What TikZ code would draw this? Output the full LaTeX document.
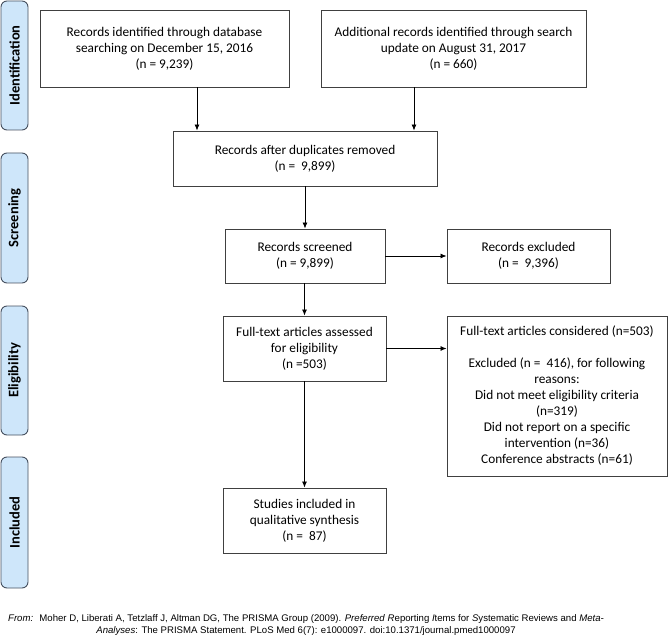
\documentclass[tikz,border=0pt]{standalone}
\usepackage{fontspec}
\setmainfont{Carlito}
\newfontfamily\footfont{Liberation Sans}
\usetikzlibrary{arrows.meta,positioning}
\definecolor{boxline}{RGB}{64,64,64}
\definecolor{tabline}{RGB}{70,80,95}
\definecolor{tabfill}{RGB}{206,230,250}

\begin{document}
\begin{tikzpicture}[x=1pt,y=-1pt,
  box/.style={draw=boxline,line width=0.9pt,align=center,inner sep=0pt,
    font=\fontsize{13.3}{16}\selectfont},
  phase/.style={draw=tabline,fill=tabfill,rounded corners=6pt,line width=0.9pt,
    rotate=90,minimum height=27pt,inner sep=0pt,font=\bfseries\fontsize{14.5}{16}\selectfont},
  arr/.style={-{Latex[length=6pt,width=5pt]},line width=0.8pt}]
  \useasboundingbox (0,0) rectangle (669,636);
  % Define phases
  \node[phase,minimum width=129pt] (tabid) at (14.5,65.5) {Identification};
  \node[phase,minimum width=130pt] (tabsc) at (14.5,218) {Screening};
  \node[phase,minimum width=129pt] (tabel) at (14.5,370.5) {Eligibility};
  \node[phase,minimum width=131pt] (tabin) at (14.5,522.5) {Included};
  % Define boxes
  \node[box,minimum width=249pt,minimum height=77pt] (dbase) at (164.5,48.5)
    {Records identified through database\\searching on December 15, 2016\\(n = 9,239)};
  \node[box,minimum width=265pt,minimum height=77pt] (update) at (453.5,48.5)
    {Additional records identified through search\\update on August 31, 2017\\(n = 660)};
  \node[box,minimum width=264pt,minimum height=55pt] (dupl) at (305,158.5)
    {Records after duplicates removed\\(n = \ 9,899)};
  \node[box,minimum width=160pt,minimum height=54pt] (screen) at (305,256)
    {Records screened\\(n = 9,899)};
  \node[box,minimum width=163pt,minimum height=54pt] (excl) at (528.5,256)
    {Records excluded\\(n = \ 9,396)};
  \node[box,minimum width=163pt,minimum height=65pt] (fulltext) at (304.5,348.5)
    {Full-text articles assessed\\for eligibility\\(n =503)};
  \node[box,minimum width=220pt,minimum height=160pt] (consid) at (557,396)
    {Full-text articles considered (n=503)\\[16pt]Excluded (n = \ 416), for following\\reasons:\\Did not meet eligibility criteria\\(n=319)\\Did not report on a specific\\intervention (n=36)\\Conference abstracts (n=61)};
  \node[box,minimum width=163pt,minimum height=65pt] (studies) at (304.5,520.5)
    {Studies included in\\qualitative synthesis\\(n = \ 87)};
  % Transitions
  \draw[arr] ([xshift=32.5pt]dbase.south) -- ([xshift=32.5pt]dbase.south |- dupl.north);
  \draw[arr] ([xshift=-39.5pt]update.south) -- ([xshift=-39.5pt]update.south |- dupl.north);
  \draw[arr] (dupl) -- (screen);
  \draw[arr] (screen) -- (excl);
  \draw[arr] (screen.south -| fulltext.north) -- (fulltext);
  \draw[arr] (fulltext) -- (consid.west |- fulltext);
  \draw[arr] (fulltext) -- (studies);
  % Source
  \node[font=\footfont\fontsize{9.6}{12.5}\selectfont,align=center] (source) at (306,625)
    {\textit{From:} \ Moher D, Liberati A, Tetzlaff J, Altman DG, The PRISMA Group (2009). \textit{Preferred} \textit{R}eporting \textit{I}tems for \textit{S}ystematic Reviews and \textit{Meta-}\\\textit{Analyses}: The PRISMA Statement. PLoS Med 6(7): e1000097. doi:10.1371/journal.pmed1000097};
\end{tikzpicture}
\end{document}
